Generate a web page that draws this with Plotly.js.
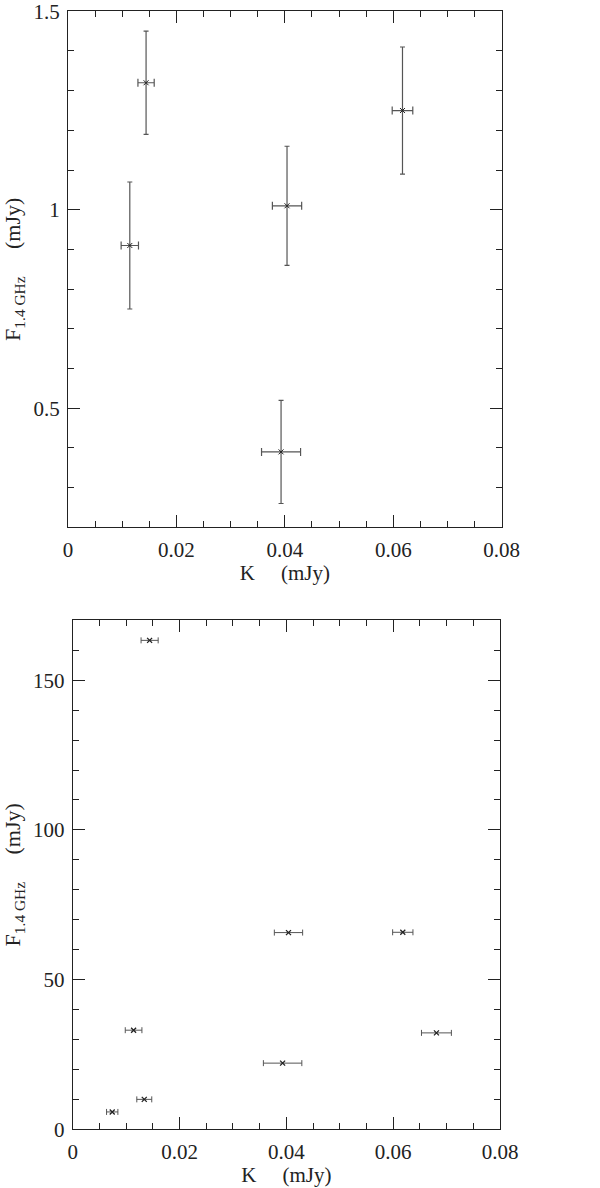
<!DOCTYPE html>
<html>
<head>
<meta charset="utf-8">
<script src="https://cdn.plot.ly/plotly-3.0.1.min.js"></script>
<style>html,body{margin:0;padding:0;background:#fff;}#chart{width:600px;height:1188px;}</style>
</head>
<body>
<div id="chart"></div>
<script>
// Top panel: K flux vs 1.4 GHz flux (mJy)
var kTop = [0.0114, 0.0144, 0.0404, 0.0617, 0.0393];
var kTopErr = [0.0016, 0.0015, 0.0027, 0.0019, 0.0036];
var fTop = [0.91, 1.32, 1.01, 1.25, 0.39];
var fTopErr = [0.16, 0.13, 0.15, 0.16, 0.13];

// Bottom panel
var kBot = [0.0144, 0.0404, 0.0618, 0.0114, 0.0681, 0.0393, 0.0134, 0.0074];
var kBotErr = [0.0016, 0.00265, 0.0019, 0.00156, 0.0028, 0.0036, 0.0014, 0.00106];
var fBot = [163.3, 65.7, 65.8, 33.1, 32.2, 22.1, 10.0, 5.8];

var xTickVals = [0, 0.02, 0.04, 0.06, 0.08];
var xTickText = ["0", "0.02", "0.04", "0.06", "0.08"];
var yTopTickVals = [0.5, 1, 1.5];
var yTopTickText = ["0.5", "1", "1.5"];
var yBotTickVals = [0, 50, 100, 150];
var yBotTickText = ["0", "50", "100", "150"];

var xTitle = "K&nbsp;&nbsp;&nbsp;&nbsp;&nbsp;(mJy)";
var yTitle = "F<sub>1.4 GHz</sub>&nbsp;&nbsp;&nbsp;&nbsp;&nbsp;(mJy)";

var ink = "#222";
var errCol = "#555";
var fontFam = "'Liberation Serif', 'DejaVu Serif', serif";

var traces = [
  {
    x: kTop, y: fTop, type: "scatter", mode: "markers",
    xaxis: "x", yaxis: "y",
    marker: {symbol: "x-thin", size: 5, line: {width: 1, color: ink}, color: ink},
    error_x: {type: "data", array: kTopErr, visible: true, color: errCol, thickness: 1.2, width: 4},
    error_y: {type: "data", array: fTopErr, visible: true, color: errCol, thickness: 1.2, width: 2.5},
    hoverinfo: "skip"
  },
  {
    x: kBot, y: fBot, type: "scatter", mode: "markers",
    xaxis: "x2", yaxis: "y2",
    marker: {symbol: "x-thin", size: 5, line: {width: 1.3, color: ink}, color: ink},
    error_x: {type: "data", array: kBotErr, visible: true, color: errCol, thickness: 1, width: 3},
    hoverinfo: "skip"
  }
];

function tickSet() {
  return {
    ticks: "inside", ticklen: 12, tickwidth: 1, tickcolor: ink,
    showgrid: false, zeroline: false
  };
}

function xAxis(domain, anchor) {
  var a = tickSet();
  Object.assign(a, {
    domain: domain, anchor: anchor, range: [0, 0.08],
    tickmode: "array", tickvals: xTickVals, ticktext: xTickText,
    minor: {dtick: 0.005, ticks: "inside", ticklen: 6, tickwidth: 1, tickcolor: ink, showgrid: false},
    showline: true, linecolor: ink, linewidth: 1, mirror: true,
    tickfont: {family: fontFam, size: 21, color: ink},
    ticklabelstandoff: 3, ticklabeloverflow: "allow",
    title: {text: xTitle, font: {family: fontFam, size: 21, color: ink}, standoff: 4},
    automargin: false, fixedrange: true
  });
  return a;
}
// top-side companion axis: draws the inward ticks along the upper frame
function xTopAxis(domain, anchor, over) {
  var a = tickSet();
  Object.assign(a, {
    domain: domain, anchor: anchor, overlaying: over, side: "top", range: [0, 0.08],
    tickmode: "array", tickvals: xTickVals, showticklabels: false,
    minor: {dtick: 0.005, ticks: "inside", ticklen: 6, tickwidth: 1, tickcolor: ink, showgrid: false},
    showline: false, automargin: false, fixedrange: true
  });
  return a;
}
function yAxis(domain, anchor, range, tv, tt, minorDt) {
  var a = tickSet();
  Object.assign(a, {
    domain: domain, anchor: anchor, range: range,
    tickmode: "array", tickvals: tv, ticktext: tt,
    minor: {dtick: minorDt, ticks: "inside", ticklen: 6, tickwidth: 1, tickcolor: ink, showgrid: false},
    showline: true, linecolor: ink, linewidth: 1, mirror: "ticks",
    tickfont: {family: fontFam, size: 21, color: ink},
    ticklabelstandoff: 3, ticklabeloverflow: "allow",
    title: {text: yTitle, font: {family: fontFam, size: 22, color: ink}, standoff: 6},
    automargin: false, fixedrange: true
  });
  return a;
}

var layout = {
  width: 600, height: 1188,
  margin: {l: 0, r: 0, t: 0, b: 0},
  paper_bgcolor: "#fff", plot_bgcolor: "#fff",
  showlegend: false,
  font: {family: fontFam, color: ink},
  xaxis: xAxis([68/600, 501.7/600], "y"),
  yaxis: yAxis([660.7/1188, 1176.7/1188], "x", [0.2, 1.5], yTopTickVals, yTopTickText, 0.1),
  xaxis2: xAxis([72.7/600, 500/600], "y2"),
  yaxis2: yAxis([58.7/1188, 567.7/1188], "x2", [0, 170], yBotTickVals, yBotTickText, 10),
  xaxis3: xTopAxis([68/600, 501.7/600], "y", "x"),
  xaxis4: xTopAxis([72.7/600, 500/600], "y2", "x2")
};

// empty traces so the top-side companion axes are drawn
traces.push({x: [], y: [], xaxis: "x3", yaxis: "y", type: "scatter", mode: "markers", hoverinfo: "skip"});
traces.push({x: [], y: [], xaxis: "x4", yaxis: "y2", type: "scatter", mode: "markers", hoverinfo: "skip"});

Plotly.newPlot("chart", traces, layout, {staticPlot: true, displayModeBar: false});
</script>
</body>
</html>
